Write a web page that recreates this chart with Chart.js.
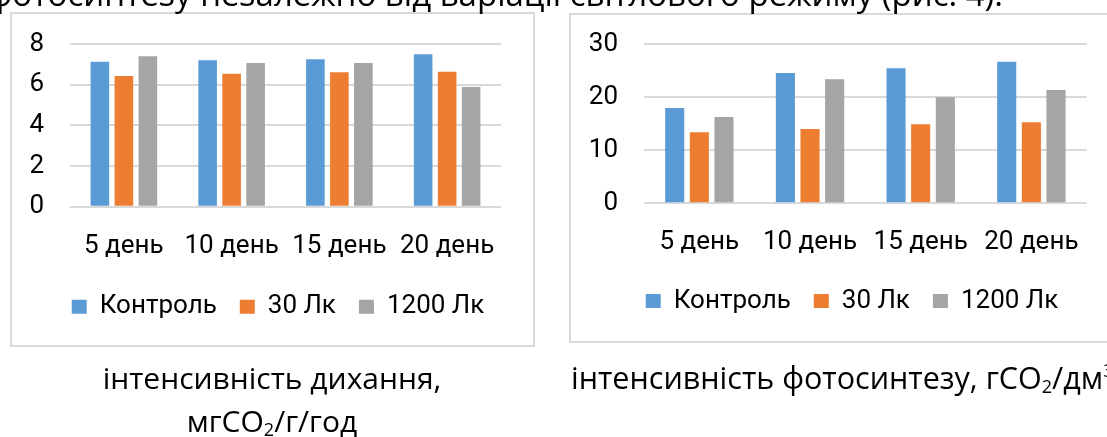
<!DOCTYPE html>
<html><head><meta charset="utf-8">
<script src="https://cdn.jsdelivr.net/npm/chart.js@4.4.1/dist/chart.umd.min.js"></script>
<style>
html,body{margin:0;padding:0;background:#fff;}
body{width:1107px;height:437px;position:relative;overflow:hidden;}
.box{position:absolute;border:2px solid #d9d9d9;box-sizing:border-box;}
canvas{position:absolute;}
svg{position:absolute;left:0;top:0;}
svg text{font-family:"Open Sans",sans-serif;fill:#000;}
</style></head><body>
<div class="box" style="left:10px;top:12px;width:525px;height:335px;"></div>
<div class="box" style="left:569px;top:13px;width:560px;height:330px;"></div>
<canvas id="c1" width="520" height="331" style="left:12px;top:14px"></canvas>
<canvas id="c2" width="536" height="326" style="left:571px;top:15px"></canvas>
<svg width="1107" height="437">
  <text x="1003" y="6" font-size="33" text-anchor="end">фотосинтезу незалежно від варіації світлового режиму (рис. 4).</text>
  <text x="272" y="389.3" font-size="30" text-anchor="middle">інтенсивність дихання,</text>
  <text x="272" y="432" font-size="30" text-anchor="middle">мгCO<tspan font-size="18" dy="4">2</tspan><tspan dy="-4">/г/год</tspan></text>
  <text x="571" y="389.3" font-size="30.5">інтенсивність фотосинтезу, гCO<tspan font-size="18" dy="4">2</tspan><tspan dy="-4">/дм</tspan><tspan font-size="18" dy="-12">3</tspan><tspan dy="12">/год</tspan></text>
</svg>
<script>
// ---- data ----
const categories = ['5 день', '10 день', '15 день', '20 день'];
const seriesNames = ['Контроль', '30 Лк', '1200 Лк'];
const seriesColors = ['#5b9bd5', '#ed7d31', '#a5a5a5'];

// respiration intensity, mgCO2/g/h
const respControl = [7.14, 7.21, 7.26, 7.51];
const resp30 = [6.44, 6.55, 6.62, 6.65];
const resp1200 = [7.41, 7.08, 7.08, 5.90];
const respTicks = {min: 0, max: 8, step: 2};

// photosynthesis intensity, gCO2/dm2
const photoControl = [18.0, 24.6, 25.5, 26.7];
const photo30 = [13.4, 14.0, 14.9, 15.3];
const photo1200 = [16.3, 23.4, 20.0, 21.4];
const photoTicks = {min: 0, max: 30, step: 10};

Chart.defaults.font.family = 'Roboto';
Chart.defaults.font.size = 26;
Chart.defaults.color = '#000';

// centre the legend at a chosen x (canvas coords)
const legendShift = {
  id: 'legendShift',
  afterLayout(chart, args, opts) {
    const lg = chart.legend;
    if (!lg || opts.center == null) return;
    const dx = opts.center - (lg.left + lg.right) / 2;
    lg.left += dx; lg.right += dx;
  }
};

function makeChart(id, series, ticks, L) {
  return new Chart(document.getElementById(id), {
    type: 'bar',
    data: {
      labels: categories,
      datasets: series.map((d, i) => ({
        label: seriesNames[i], data: d,
        backgroundColor: seriesColors[i], borderWidth: 0,
        categoryPercentage: 0.668, barPercentage: 0.775
      }))
    },
    plugins: [legendShift],
    options: {
      responsive: false, animation: false, devicePixelRatio: 1,
      layout: {padding: {left: 0, right: L.padR, top: L.padT, bottom: L.padB}},
      plugins: {
        tooltip: {enabled: false},
        legendShift: {center: L.legendCenter},
        legend: {
          position: 'bottom',
          labels: {boxWidth: 15, boxHeight: 14, padding: 23, color: '#000'}
        }
      },
      scales: {
        x: {
          grid: {display: false, drawTicks: false},
          border: {display: false},
          ticks: {padding: 24, color: '#000', maxRotation: 0, autoSkip: false},
          afterFit(s) { s.height = L.xH; }
        },
        y: {
          min: ticks.min, max: ticks.max,
          grid: {color: '#d9d9d9', lineWidth: 2, drawTicks: true, tickLength: 26, tickColor: 'rgba(0,0,0,0)'},
          border: {display: false},
          ticks: {stepSize: ticks.step, padding: 0, color: '#000'},
          afterFit(s) { s.width = L.yW; }
        }
      }
    }
  });
}

makeChart('c1', [respControl, resp30, resp1200], respTicks,
  {yW: 58, padR: 31, padT: 30.3, padB: 15.3, xH: 64, legendCenter: 266});
makeChart('c2', [photoControl, photo30, photo1200], photoTicks,
  {yW: 73, padR: 20.3, padT: 29.3, padB: 16.9, xH: 61.8, legendCenter: 281});
</script>
</body></html>
